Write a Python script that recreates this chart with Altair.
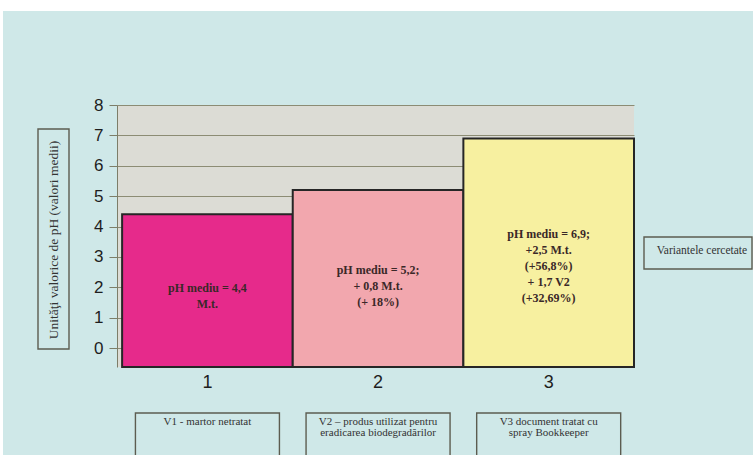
import altair as alt
import pandas as pd

# Mean pH per treatment variant
variants = ["1", "2", "3"]
ph_values = [4.4, 5.2, 6.9]
bar_colors = ["#e62a8b", "#f2a7ae", "#f7f0a0"]
bar_notes = [
    "pH mediu = 4,4\nM.t.",
    "pH mediu = 5,2;\n+ 0,8 M.t.\n(+ 18%)",
    "pH mediu = 6,9;\n+2,5 M.t.\n(+56,8%)\n+ 1,7 V2\n(+32,69%)",
]
variant_names = [
    "V1 - martor netratat",
    "V2 – produs utilizat pentru\neradicarea biodegradărilor",
    "V3 document tratat cu\nspray Bookkeeper",
]
y_ticks = [0, 1, 2, 3, 4, 5, 6, 7, 8]
y_title = "Unităţi valorice de pH (valori medii)"
legend_title = "Variantele cercetate"

FLOOR = -0.625          # the chart floor sits a little below zero
BOX_TOP, BOX_BOTTOM = -2.14, -3.9
NOTE_LINE = 0.527       # one 16px text line, in pH units

df = pd.DataFrame({
    "variant": variants,
    "ph": ph_values,
    "note": bar_notes,
    "name": variant_names,
})

x_scale = alt.Scale(domain=variants, paddingInner=0, paddingOuter=0.015, align=1)
x_axis = alt.Axis(title=None, labelAngle=0, domain=False, ticks=False,
                  labelPadding=6, labelFontSize=18, labelFont="Liberation Sans",
                  labelColor="#1e1e1e")
x_enc = alt.X("variant:N", scale=x_scale, axis=x_axis)

y_scale = alt.Scale(domain=[FLOOR, 8], nice=False, zero=False)
y_axis = alt.Axis(title=None, values=y_ticks, labelOverlap=False,
                  grid=True, gridColor="#8c8c74",
                  gridWidth=1.2, domainColor="#7d7d68", tickColor="#7d7d68",
                  tickSize=8, labelPadding=6, labelFontSize=17,
                  labelFont="Liberation Sans", labelColor="#1e1e1e")

base = alt.Chart(df)

bars = base.mark_bar(stroke="#262626", strokeWidth=2).encode(
    x=x_enc,
    y=alt.Y("ph:Q", scale=y_scale, axis=y_axis),
    y2=alt.datum(FLOOR),
    color=alt.Color("variant:N", scale=alt.Scale(domain=variants, range=bar_colors),
                    legend=None),
)

# Note block centred at 39% of the bar's height; first line placed above centre
notes = base.transform_calculate(
    n_lines="length(split(datum.note, '\\n'))",
).transform_calculate(
    note_y=f"datum.ph * 0.39 + (datum.n_lines - 1) / 2 * {NOTE_LINE}",
).mark_text(
    font="Liberation Serif", fontWeight="bold", fontSize=12, lineHeight=16,
    color="#3a2828", baseline="middle", lineBreak="\n",
).encode(x=x_enc, y=alt.Y("note_y:Q", scale=y_scale, axis=y_axis), text="note:N")

# Description boxes under each variant
name_boxes = base.mark_bar(width=144, fillOpacity=0, stroke="#5c5c50",
                           strokeWidth=1.4).encode(
    x=x_enc,
    y=alt.Y(datum=BOX_TOP, type="quantitative", scale=y_scale, axis=y_axis),
    y2=alt.datum(BOX_BOTTOM),
)
name_text = base.mark_text(
    font="Liberation Serif", fontSize=11, lineHeight=11, color="#333333",
    baseline="top", dy=3, lineBreak="\n",
).encode(
    x=x_enc,
    y=alt.Y(datum=BOX_TOP, type="quantitative", scale=y_scale, axis=y_axis),
    text="name:N",
)

one = alt.Chart(pd.DataFrame({"k": [0]}))

# White margin strips around the tinted page
strip_top = one.mark_rect(color="white").encode(
    x=alt.value(-117), x2=alt.value(636), y=alt.value(-105), y2=alt.value(-94))
strip_left = one.mark_rect(color="white").encode(
    x=alt.value(-117), x2=alt.value(-114), y=alt.value(-105), y2=alt.value(350))

# Framed y-axis title
ytitle_box = one.mark_rect(fillOpacity=0, stroke="#5c5c50", strokeWidth=1.4).encode(
    x=alt.value(-79), x2=alt.value(-48), y=alt.value(24), y2=alt.value(244))
ytitle_text = one.mark_text(
    text=y_title, angle=270, font="Liberation Serif", fontSize=13.5,
    color="#333333", baseline="middle", align="center",
).encode(x=alt.value(-63.5), y=alt.value(135))

# Framed series caption on the right
legend_box = one.mark_rect(fillOpacity=0, stroke="#5c5c50", strokeWidth=1.4).encode(
    x=alt.value(527), x2=alt.value(635), y=alt.value(132), y2=alt.value(164))
legend_text = one.mark_text(
    text=legend_title, font="Liberation Serif", fontSize=11.5, color="#333333",
    baseline="middle", align="center",
).encode(x=alt.value(585), y=alt.value(146))

chart = alt.layer(
    bars, notes, name_boxes, name_text, strip_top, strip_left,
    ytitle_box, ytitle_text, legend_box, legend_text,
).properties(
    width=517, height=262,
    autosize=alt.AutoSizeParams(type="none"),
    padding={"left": 117, "top": 105, "right": 119, "bottom": 88},
    background="#cfe8e8",
).configure_view(
    fill="#dcdcd5", stroke=None,
)

chart.save("out.html", embed_options={"renderer": "svg", "actions": False})
